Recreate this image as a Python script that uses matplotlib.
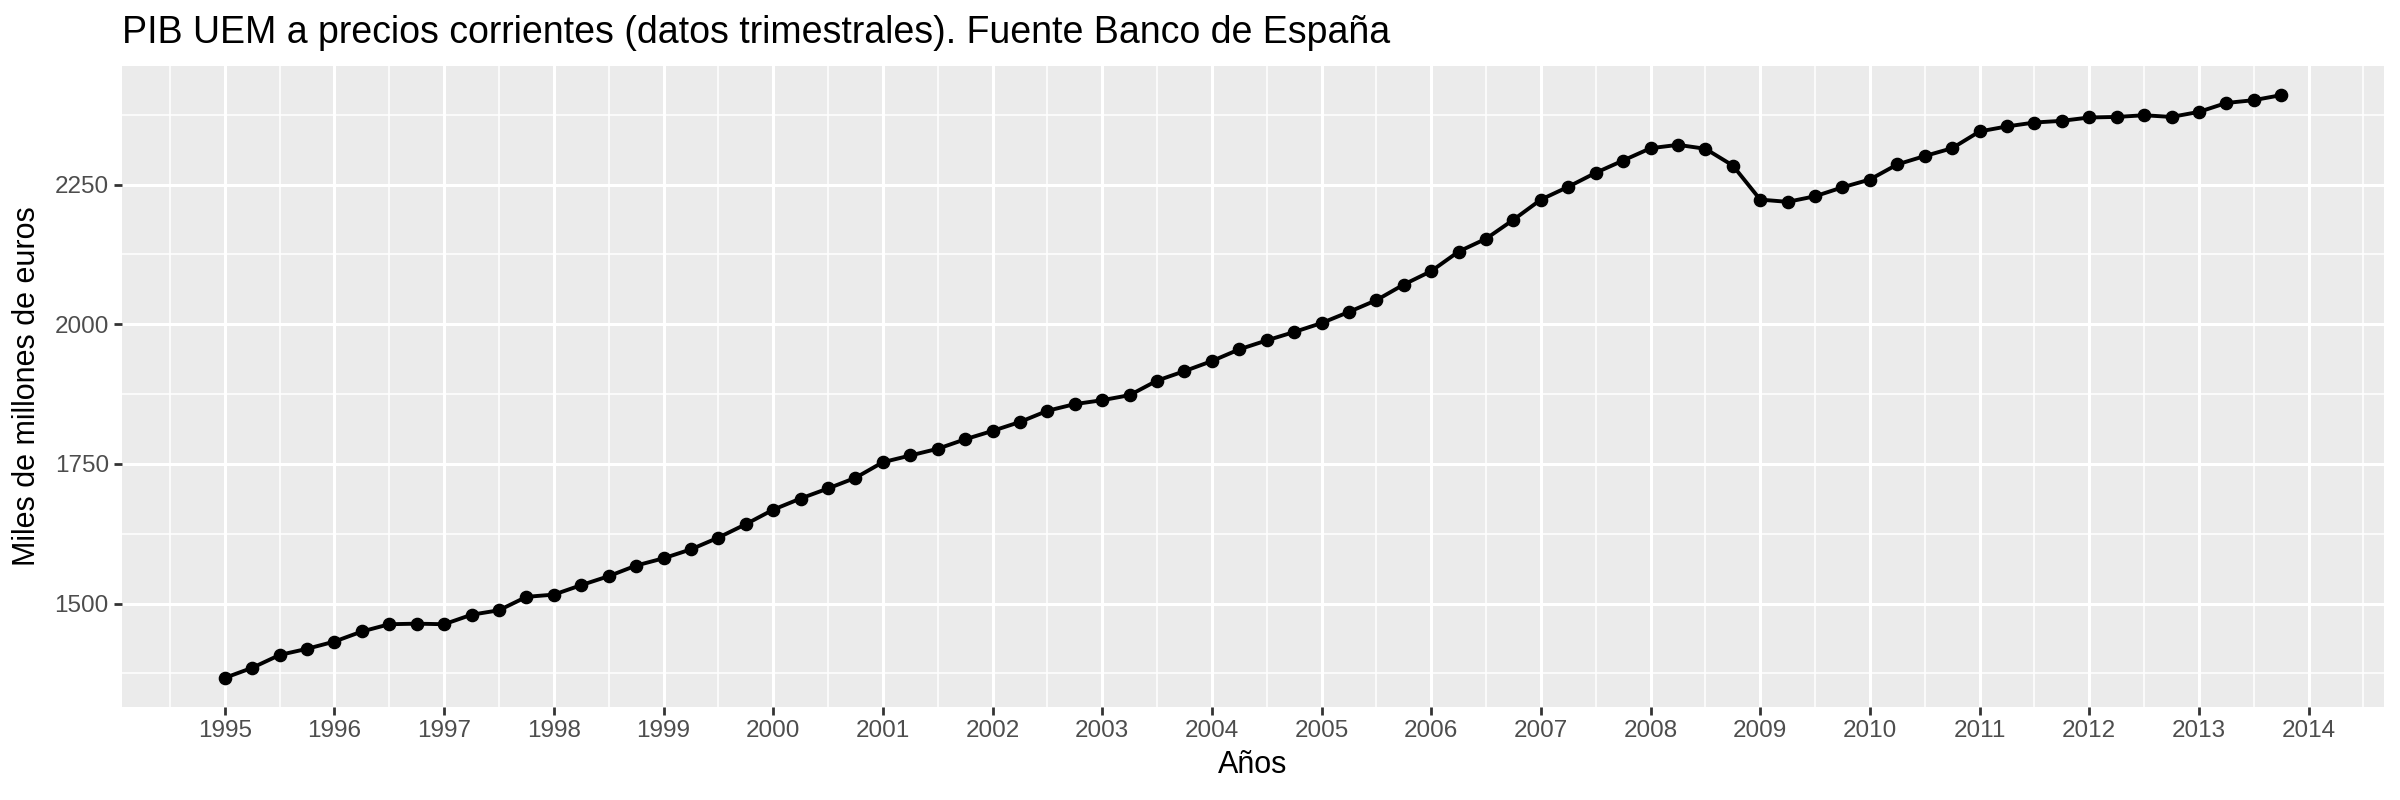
import numpy as np
import matplotlib
matplotlib.use("Agg")
import matplotlib.pyplot as plt
from matplotlib.ticker import MultipleLocator

plt.rcParams["font.family"] = ["Liberation Sans", "DejaVu Sans"]

# Quarterly GDP, 1995 Q1 - 2013 Q4 (miles de millones de euros)
years = np.arange(1995, 2014)
quarters = [0.0, 0.25, 0.5, 0.75]
pib = [
    1367, 1385, 1408, 1419,
    1432, 1450, 1463, 1464,
    1463, 1480, 1488, 1512,
    1516, 1533, 1549, 1568,
    1581, 1597, 1618, 1642,
    1668, 1688, 1706, 1725,
    1753, 1765, 1777, 1794,
    1809, 1825, 1845, 1857,
    1864, 1873, 1899, 1916,
    1934, 1955, 1971, 1986,
    2002, 2022, 2043, 2071,
    2095, 2130, 2153, 2187,
    2223, 2246, 2271, 2293,
    2315, 2321, 2314, 2284,
    2223, 2219, 2229, 2245,
    2259, 2286, 2301, 2315,
    2345, 2354, 2361, 2364,
    2370, 2371, 2374, 2371,
    2380, 2396, 2401, 2410,
]
fecha = [y + q for y in years for q in quarters]
year_ticks = np.arange(1995, 2015)
y_ticks = [1500, 1750, 2000, 2250]

W, H = 2400, 800
fig = plt.figure(figsize=(24, 8), dpi=100)
left, right, top, bottom = 122, 2384, 66, 707
ax = fig.add_axes([left / W, 1 - bottom / H, (right - left) / W, (bottom - top) / H])

ax.set_facecolor("#EBEBEB")
for s in ax.spines.values():
    s.set_visible(False)

# ggplot-like expansion (5%)
xr = fecha[-1] - fecha[0]
ax.set_xlim(fecha[0] - 0.05 * xr, fecha[-1] + 0.05 * xr)
yr = max(pib) - min(pib)
ax.set_ylim(min(pib) - 0.05 * yr, max(pib) + 0.05 * yr)

ax.set_xticks(year_ticks)
ax.set_xticklabels([str(y) for y in year_ticks])
ax.xaxis.set_minor_locator(MultipleLocator(0.5))
ax.set_yticks(y_ticks)
ax.yaxis.set_minor_locator(MultipleLocator(125))

ax.grid(which="major", color="white", linewidth=2.2)
ax.grid(which="minor", color="white", linewidth=1.1)
ax.set_axisbelow(True)

ax.tick_params(which="major", length=5.5, width=2.0, color="#333333",
               labelsize=17.5, labelcolor="#4D4D4D", pad=4)
ax.tick_params(which="minor", length=0)

ax.plot(fecha, pib, color="black", linewidth=2.8, zorder=3)
ax.plot(fecha, pib, "o", color="black", markersize=8.8, zorder=4)

fig.text(left / W, 1 - 43 / H,
         "PIB UEM a precios corrientes (datos trimestrales). Fuente Banco de España",
         fontsize=27, ha="left", va="baseline", color="black")
fig.text((left + right) / 2 / W, 1 - 765 / H, "Años", fontsize=22,
         ha="center", va="center")
fig.text(27 / W, 1 - (top + bottom) / 2 / H, "Miles de millones de euros",
         fontsize=22, rotation=90, ha="center", va="center")

fig.savefig("out.png", dpi=100, facecolor="white")
